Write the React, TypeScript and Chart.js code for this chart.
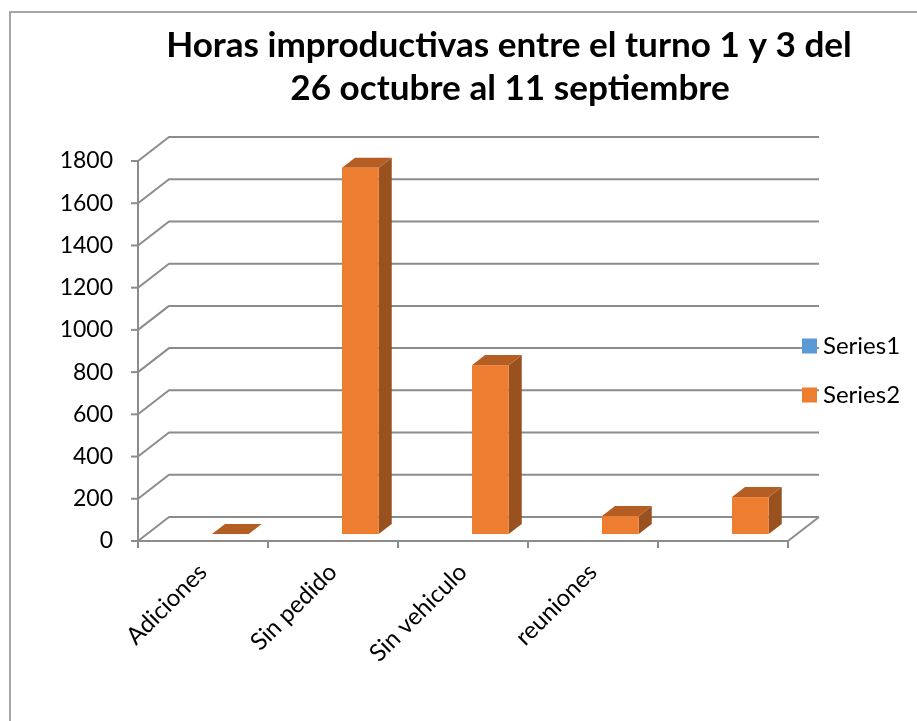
import React, { useEffect, useRef } from "react";
import { Chart, registerables } from "chart.js";

Chart.register(...registerables);

// ---- data ----
const TITLE_LINES = ["Horas improductivas entre el turno 1 y 3 del", "26 octubre al 11 septiembre"];
const CATEGORIES = ["Adiciones", "Sin pedido", "Sin vehiculo", "reuniones", ""];
const SERIES_NAMES = ["Series1", "Series2"];
const SERIES1_VALUES: (number | null)[] = [null, null, null, null, null];
const SERIES2_VALUES: (number | null)[] = [0, 1735, 800, 85, 175];
const Y_MIN = 0;
const Y_MAX = 1800;
const Y_STEP = 200;

// ---- style ----
const SERIES_COLORS = ["#5B9BD5", "#ED7D31"];
const TOP_COLORS = ["#4676A2", "#B45E24"];
const SIDE_COLORS = ["#3E6890", "#9A5120"];
const GRID_COLOR = "#8C8C8C";
const FONT = "Lato, 'Open Sans', sans-serif";
const DEPTH_DX = 31;
const DEPTH_DY = -24;
const BAR_FRONT = 0.29;
const BAR_DEPTH = 0.42;

const threeD = {
  id: "threeD",
  beforeDatasetsDraw(chart: any) {
    const { ctx, chartArea, scales } = chart;
    const { left, right, top, bottom } = chartArea;
    const y = scales.y;
    ctx.save();
    ctx.strokeStyle = GRID_COLOR;
    ctx.lineWidth = 2;
    ctx.lineJoin = "round";
    y.ticks.forEach((t: any) => {
      const py = y.getPixelForValue(t.value);
      ctx.beginPath();
      ctx.moveTo(left, py);
      ctx.lineTo(left + DEPTH_DX, py + DEPTH_DY);
      ctx.lineTo(right + DEPTH_DX, py + DEPTH_DY);
      ctx.stroke();
      ctx.beginPath();
      ctx.moveTo(left - 7, py);
      ctx.lineTo(left, py);
      ctx.stroke();
    });
    ctx.beginPath();
    ctx.moveTo(left, bottom);
    ctx.lineTo(right, bottom);
    ctx.lineTo(right + DEPTH_DX, bottom + DEPTH_DY);
    ctx.stroke();
    ctx.beginPath();
    ctx.moveTo(left, top);
    ctx.lineTo(left, bottom);
    ctx.stroke();
    const n = chart.data.labels.length;
    for (let i = 0; i <= n; i++) {
      const bx = left + (i * (right - left)) / n;
      ctx.beginPath();
      ctx.moveTo(bx, bottom);
      ctx.lineTo(bx, bottom + 7);
      ctx.stroke();
    }
    ctx.restore();
  },
  beforeDatasetDraw() {
    return false;
  },
  afterDatasetsDraw(chart: any) {
    const { ctx } = chart;
    const fx = DEPTH_DX * BAR_FRONT;
    const fy = DEPTH_DY * BAR_FRONT;
    const bdx = DEPTH_DX * BAR_DEPTH;
    const bdy = DEPTH_DY * BAR_DEPTH;
    ctx.save();
    chart.data.datasets.forEach((ds: any, di: number) => {
      const meta = chart.getDatasetMeta(di);
      meta.data.forEach((el: any, i: number) => {
        const v = ds.data[i];
        if (v === null || v === undefined) return;
        const L = el.x - el.width / 2 + fx;
        const R = el.x + el.width / 2 + fx;
        const T = el.y + fy;
        const B = el.base + fy;
        ctx.fillStyle = SIDE_COLORS[di];
        ctx.beginPath();
        ctx.moveTo(R, T);
        ctx.lineTo(R + bdx, T + bdy);
        ctx.lineTo(R + bdx, B + bdy);
        ctx.lineTo(R, B);
        ctx.closePath();
        ctx.fill();
        ctx.fillStyle = TOP_COLORS[di];
        ctx.beginPath();
        ctx.moveTo(L, T);
        ctx.lineTo(L + bdx, T + bdy);
        ctx.lineTo(R + bdx, T + bdy);
        ctx.lineTo(R, T);
        ctx.closePath();
        ctx.fill();
        if (B - T > 0) {
          ctx.fillStyle = SERIES_COLORS[di];
          ctx.fillRect(L, T, R - L, B - T);
        }
      });
    });
    ctx.restore();
  },
  afterDraw(chart: any) {
    const { ctx } = chart;
    ctx.save();
    ctx.fillStyle = "#000";
    ctx.font = `bold 100px ${FONT}`;
    const w0 = ctx.measureText(TITLE_LINES[0]).width;
    const size = (100 * 686) / w0;
    ctx.font = `bold ${size}px ${FONT}`;
    ctx.textAlign = "center";
    ctx.textBaseline = "alphabetic";
    ctx.fillText(TITLE_LINES[0], 509, 57);
    ctx.fillText(TITLE_LINES[1], 510, 100);
    ctx.font = `24px ${FONT}`;
    ctx.textAlign = "left";
    chart.data.datasets.forEach((ds: any, di: number) => {
      const cy = 346 + di * 49;
      ctx.fillStyle = ds.backgroundColor;
      ctx.fillRect(802, cy - 7.5, 15, 15);
      ctx.fillStyle = "#000";
      ctx.fillText(ds.label, 823, cy + 8);
    });
    ctx.restore();
  },
};

export default function App() {
  const ref = useRef<HTMLCanvasElement | null>(null);
  useEffect(() => {
    if (!ref.current) return;
    const chart = new Chart(ref.current, {
      type: "bar",
      data: {
        labels: CATEGORIES,
        datasets: [
          { label: SERIES_NAMES[0], data: SERIES1_VALUES, backgroundColor: SERIES_COLORS[0] },
          { label: SERIES_NAMES[1], data: SERIES2_VALUES, backgroundColor: SERIES_COLORS[1] },
        ],
      },
      options: {
        responsive: false,
        animation: false,
        layout: { padding: { left: 10, top: 161, right: 129, bottom: 60 } },
        plugins: { legend: { display: false }, title: { display: false }, tooltip: { enabled: false } },
        datasets: { bar: { categoryPercentage: 0.565, barPercentage: 1 } },
        scales: {
          x: {
            grid: { display: false, drawTicks: false },
            border: { display: false },
            ticks: {
              minRotation: 45,
              maxRotation: 45,
              autoSkip: false,
              padding: 17,
              color: "#000",
              font: { family: FONT, size: 24 },
            },
            afterFit: (s: any) => {
              s.height = 120;
            },
          },
          y: {
            min: Y_MIN,
            max: Y_MAX,
            grid: { display: false, drawTicks: false },
            border: { display: false },
            ticks: {
              stepSize: Y_STEP,
              padding: 25,
              color: "#000",
              font: { family: FONT, size: 23 },
              callback: (v: any) => String(v),
            },
            afterFit: (s: any) => {
              s.width = 128;
            },
          },
        },
      },
      plugins: [threeD],
    });
    return () => chart.destroy();
  }, []);
  return (
    <div style={{ position: "fixed", left: 0, top: 0, width: 917, height: 721, overflow: "hidden", background: "#fff" }}>
      <div
        style={{
          position: "absolute",
          left: 9,
          top: 11,
          width: 1000,
          height: 900,
          border: "2px solid #A6A6A6",
          boxSizing: "border-box",
        }}
      />
      <canvas ref={ref} width={917} height={721} style={{ position: "absolute", left: 0, top: 0, display: "block" }} />
    </div>
  );
}
